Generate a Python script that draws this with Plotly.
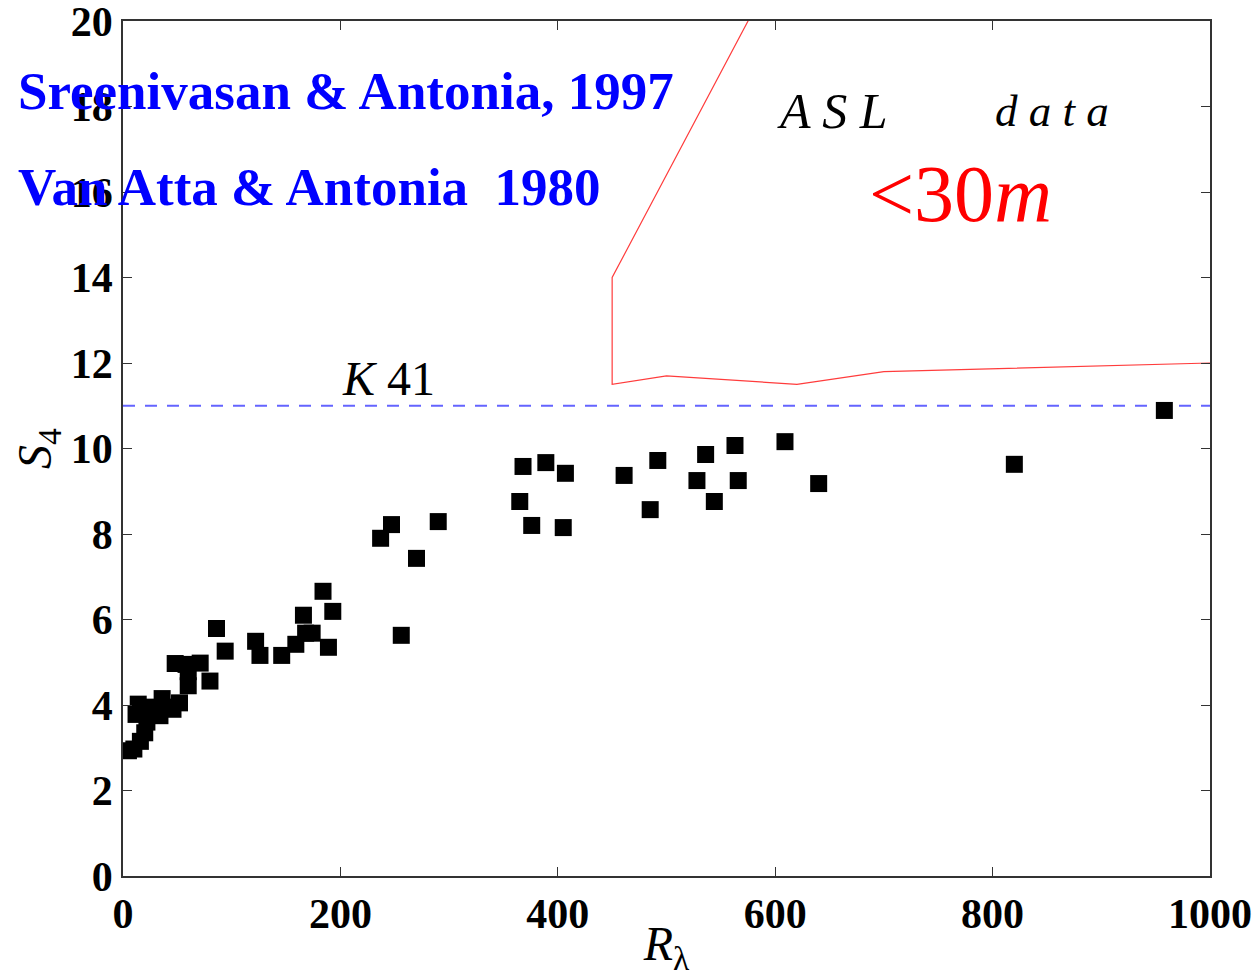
import plotly.graph_objects as go

# Data points: R_lambda vs S_4
r_lambda = [5, 10, 16, 20, 22, 12, 14, 22, 28, 34, 36, 42, 46, 52, 60, 60, 48, 58, 71,
            80, 86, 94, 122, 126, 146, 159, 168, 174, 166, 184, 193, 189,
            237, 247, 256, 270, 290, 365, 368, 376, 389, 405, 407, 461, 485, 492,
            528, 536, 544, 563, 566, 609, 640, 820, 958]
s4 = [2.93, 2.97, 3.15, 3.35, 3.6, 3.78, 4.02, 3.95, 3.85, 3.75, 4.15, 3.95, 3.9, 4.05, 4.45, 4.78, 4.97, 4.95, 4.98,
      4.56, 5.79, 5.26, 5.49, 5.16, 5.16, 5.42, 5.68, 5.68, 6.10, 6.66, 6.19, 5.35,
      7.90, 8.22, 5.63, 7.43, 8.29, 8.76, 9.58, 8.20, 9.67, 8.15, 9.42, 9.37, 8.57, 9.72,
      9.25, 9.86, 8.76, 10.07, 9.25, 10.16, 9.18, 9.63, 10.89]

# K41 reference level
k41_x = [0, 1000]
k41_y = [11, 11]

# ASL data (<30m) envelope
asl_x = [650, 450, 450, 500, 620, 700, 1000]
asl_y = [23.6, 14.0, 11.5, 11.7, 11.5, 11.8, 12.0]

x_ticks = [0, 200, 400, 600, 800, 1000]
y_ticks = [0, 2, 4, 6, 8, 10, 12, 14, 16, 18, 20]

fig = go.Figure()
fig.add_trace(go.Scatter(x=k41_x, y=k41_y, mode="lines",
                         line=dict(color="rgb(100,100,255)", width=1.8, dash="12px,10px"),
                         showlegend=False))
fig.add_trace(go.Scatter(x=asl_x, y=asl_y, mode="lines",
                         line=dict(color="rgb(255,60,60)", width=1.2),
                         showlegend=False))
fig.add_trace(go.Scatter(x=r_lambda, y=s4, mode="markers",
                         marker=dict(symbol="square", size=17, color="black",
                                     line=dict(width=0)),
                         showlegend=False))

serif = "Liberation Serif"
axis_common = dict(showgrid=False, zeroline=False, showline=True, mirror="ticks",
                   linecolor="#333", linewidth=1.5, ticks="inside", ticklen=9,
                   tickcolor="#333", automargin=False, ticklabeloverflow="allow",
                   tickfont=dict(family=serif, size=42, color="black"))

fig.update_layout(
    width=1260, height=977,
    margin=dict(l=123, r=50, t=21, b=101),
    paper_bgcolor="white", plot_bgcolor="white",
    xaxis=dict(range=[0, 1000], tickvals=x_ticks, ticktext=[f"<b>{v}</b>" for v in x_ticks],
               title=dict(text="<i>R</i><sub>λ</sub>", font=dict(family=serif, size=48, color="black"),
                          standoff=2),
               **axis_common),
    yaxis=dict(range=[0, 20], tickvals=y_ticks, ticktext=[f"<b>{v}</b>" for v in y_ticks],
               ticklabelstandoff=0,
               title=dict(text="<i>S</i><sub>4</sub>", font=dict(family=serif, size=48, color="black"),
                          standoff=4),
               **axis_common),
    annotations=[
        dict(x=-0.0984, y=18.36, xref="paper", yref="y", xanchor="left", yanchor="middle",
             text="<b>Sreenivasan &amp; Antonia, 1997</b>", showarrow=False,
             font=dict(family=serif, size=53, color="blue")),
        dict(x=-0.0984, y=16.12, xref="paper", yref="y", xanchor="left", yanchor="middle",
             text="<b>Van Atta &amp; Antonia  1980</b>", showarrow=False,
             font=dict(family=serif, size=53, color="blue")),
        dict(x=600, y=17.9, xref="x", yref="y", xanchor="left", yanchor="middle",
             text="<i>A S L</i>", showarrow=False,
             font=dict(family=serif, size=50, color="black")),
        dict(x=800, y=17.9, xref="x", yref="y", xanchor="left", yanchor="middle",
             text="<i>d a t a</i>", showarrow=False,
             font=dict(family=serif, size=45, color="black")),
        dict(x=684, y=15.95, xref="x", yref="y", xanchor="left", yanchor="middle",
             text="&lt;30<i>m</i>", showarrow=False,
             font=dict(family=serif, size=80, color="red")),
        dict(x=200, y=11.63, xref="x", yref="y", xanchor="left", yanchor="middle",
             text="<i>K</i> 41", showarrow=False,
             font=dict(family=serif, size=48, color="black")),
    ],
)

fig.write_html("out.html")
